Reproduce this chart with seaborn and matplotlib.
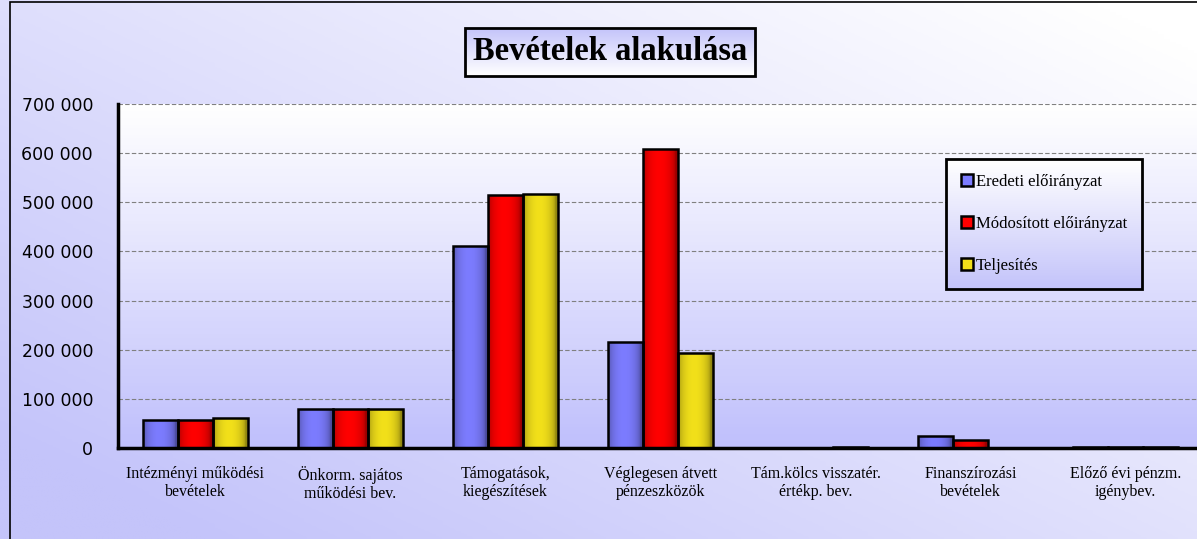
import numpy as np
import pandas as pd
import seaborn as sns
import matplotlib.pyplot as plt
from matplotlib.patches import Rectangle
from matplotlib.colors import LinearSegmentedColormap, to_rgb

categories = ['Intézményi működési\nbevételek', 'Önkorm. sajátos\nműködési bev.',
              'Támogatások,\nkiegészítések', 'Véglegesen átvett\npénzeszközök',
              'Tám.kölcs visszatér.\nértékp. bev.', 'Finanszírozási\nbevételek',
              'Előző évi pénzm.\nigénybev.']
series = ['Eredeti előirányzat', 'Módosított előirányzat', 'Teljesítés']
eredeti = [57000, 80000, 411000, 215000, 0, 24000, 2000]
modositott = [57000, 79000, 514000, 608000, 0, 17000, 2000]
teljesites = [61000, 79000, 517000, 193000, 2500, 0, 2000]
colors = ['#7c7cff', '#ff0000', '#f2e01a']

df = pd.DataFrame({
    'kategoria': categories * 3,
    'sorozat': [s for s in series for _ in categories],
    'ertek': eredeti + modositott + teljesites,
})

sns.set_style('white')
plt.rcParams['font.family'] = ['Liberation Serif', 'DejaVu Serif']
plt.rcParams['text.color'] = 'black'
plt.rcParams['xtick.color'] = 'black'
plt.rcParams['ytick.color'] = 'black'

fig = plt.figure(figsize=(11.97, 5.39), dpi=100)

# figure background: lavender lower-left to white upper-right
bg = fig.add_axes([0, 0, 1, 1], zorder=-10)
yy, xx = np.mgrid[0:1:200j, 0:1:200j]
grad = np.clip(1 - (xx * 0.6 + (1 - yy) * 0.55) + 0.1, 0, 1)
bg_cmap = LinearSegmentedColormap.from_list('bg', ['#ffffff', '#c4c4fa'])
bg.imshow(grad, cmap=bg_cmap, extent=[0, 1, 0, 1], aspect='auto', origin='upper')
bg.set_xlim(0, 1)
bg.set_ylim(0, 1)
bg.axis('off')
bg.add_patch(Rectangle((10 / 1197, -0.01), 1.1, (539 - 2) / 539 + 0.01,
                       fill=False, edgecolor='black', linewidth=1.2))

ax = fig.add_axes([118 / 1197, 91 / 539, 1085 / 1197, 344 / 539])

# plot area gradient: white top to lavender bottom
pa_cmap = LinearSegmentedColormap.from_list('pa', ['#ffffff', '#c0c0fc'])
ax.imshow(np.linspace(0, 1, 100).reshape(-1, 1), cmap=pa_cmap, extent=[0, 1, 0, 1],
          transform=ax.transAxes, aspect='auto', zorder=0, origin='upper')

sns.barplot(data=df, x='kategoria', y='ertek', hue='sorozat', palette=colors,
            saturation=1, width=0.68, edgecolor='black', linewidth=1.8, ax=ax,
            legend=False, zorder=3)

# shaded (cylinder-like) fill on each bar
for patch in list(ax.patches):
    w = patch.get_width()
    h = patch.get_height()
    if h <= 0:
        continue
    x0 = patch.get_x()
    base = np.array(to_rgb(patch.get_facecolor()))
    t = np.linspace(0, 1, 60)
    shade = 0.6 + 0.4 * np.clip(np.sin(np.pi * np.clip(t * 1.1, 0, 1)), 0, 1) ** 0.45
    img = (base[None, :] * shade[:, None])[None, :, :]
    im = ax.imshow(img, extent=[x0, x0 + w, 0, h], aspect='auto', zorder=3.5)
    im.set_clip_path(patch)
    patch.set_facecolor('none')
    patch.set_zorder(4)

ax.set_xlim(-0.5, len(categories) - 0.5)
ax.set_ylim(0, 700000)
ax.set_yticks(np.arange(0, 700001, 100000))
ax.set_yticks(np.arange(0, 700001, 20000), minor=True)
ax.set_yticklabels([f'{v:,}'.replace(',', ' ') for v in range(0, 700001, 100000)],
                   family='DejaVu Sans', fontsize=12.5)
ax.set_xticks(np.arange(-0.5, len(categories), 1), minor=True)
ax.set_xticklabels(categories, fontsize=11.5, linespacing=1.15)
ax.tick_params(axis='x', which='major', length=0, pad=13)
ax.tick_params(axis='x', which='minor', length=5, width=1.2, direction='in', color='black')
ax.tick_params(axis='y', which='major', length=5, width=1.5, direction='out', color='black', pad=13)
ax.tick_params(axis='y', which='minor', length=4, width=1.2, direction='in', color='black')
ax.grid(axis='y', linestyle=(0, (4, 2)), color='#808080', linewidth=0.8, zorder=1)
ax.set_axisbelow(True)
for s in ['top', 'right']:
    ax.spines[s].set_visible(False)
for s in ['left', 'bottom']:
    ax.spines[s].set_linewidth(2.5)
    ax.spines[s].set_color('black')
    ax.spines[s].set_zorder(6)
ax.set_xlabel('')
ax.set_ylabel('')

handles = [Rectangle((0, 0), 1, 1, facecolor=c, edgecolor='black', linewidth=1.8) for c in colors]
leg = ax.legend(handles, series, loc='upper left', bbox_to_anchor=(0.763, 0.84),
                fontsize=12, frameon=True, fancybox=False, framealpha=1,
                handlelength=0.7, handleheight=0.7, handletextpad=0.2,
                labelspacing=1.55, borderpad=0.9, borderaxespad=0)
leg.get_frame().set_edgecolor('black')
leg.get_frame().set_linewidth(2)
leg.get_frame().set_facecolor('none')
leg.set_zorder(8)

title = fig.text(610 / 1197, 1 - 52 / 539, 'Bevételek alakulása', ha='center', va='center',
                 fontsize=23.5, fontweight='bold', color='black',
                 bbox=dict(boxstyle='square,pad=0.25', facecolor='none', edgecolor='black', linewidth=2))

fig.canvas.draw()
inv = fig.transFigure.inverted()

# gradient behind title box (lavender top to white bottom)
tb = title.get_bbox_patch().get_window_extent()
(tx0, ty0), (tx1, ty1) = inv.transform([[tb.x0, tb.y0], [tb.x1, tb.y1]])
title_cmap = LinearSegmentedColormap.from_list('tt', ['#c4c4fa', '#ffffff'])
bg.imshow(np.linspace(0, 1, 50).reshape(-1, 1), cmap=title_cmap,
          extent=[tx0, tx1, ty0, ty1], aspect='auto', origin='upper', zorder=5)

# gradient behind legend (white top to lavender bottom)
lb = leg.get_frame().get_window_extent()
ainv = ax.transData.inverted()
(lx0, ly0), (lx1, ly1) = ainv.transform([[lb.x0, lb.y0], [lb.x1, lb.y1]])
leg_cmap = LinearSegmentedColormap.from_list('lg', ['#ffffff', '#c4c4fa'])
ax.imshow(np.linspace(0, 1, 50).reshape(-1, 1), cmap=leg_cmap,
          extent=[lx0, lx1, ly0, ly1], aspect='auto', origin='upper', zorder=7)
ax.set_xlim(-0.5, len(categories) - 0.5)
ax.set_ylim(0, 700000)
bg.set_xlim(0, 1)
bg.set_ylim(0, 1)

fig.savefig('out.png', dpi=100)
